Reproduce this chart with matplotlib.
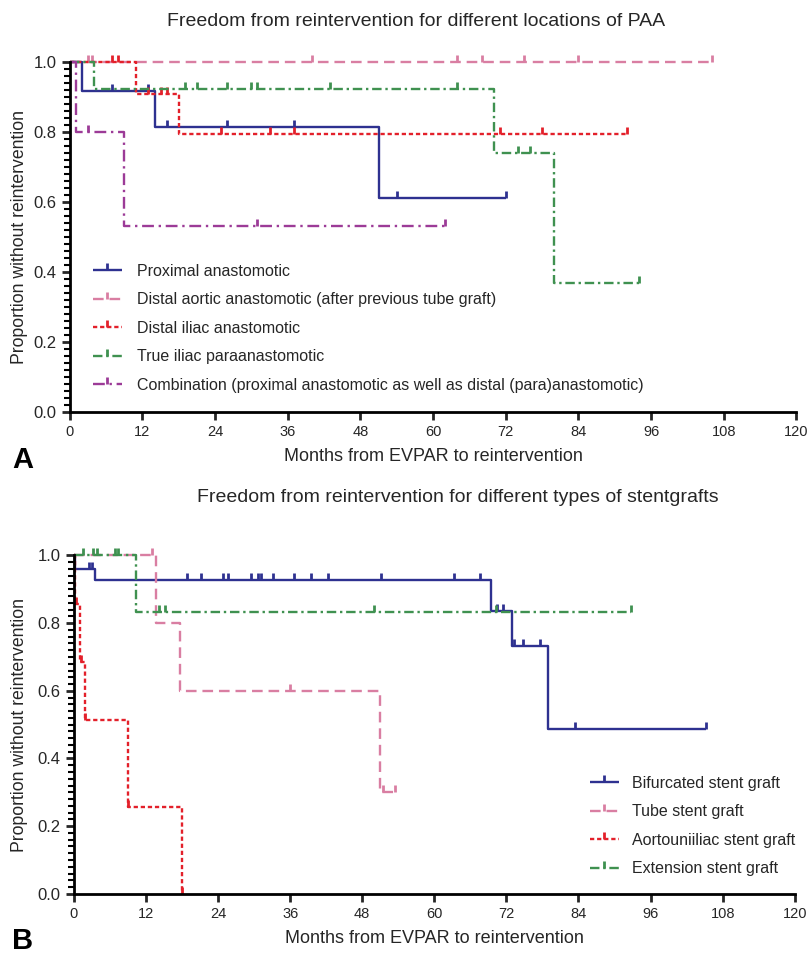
import matplotlib
matplotlib.use("Agg")
import matplotlib.pyplot as plt
import numpy as np
from matplotlib.ticker import MultipleLocator
from matplotlib.legend_handler import HandlerTuple

plt.rcParams['font.family'] = ['Liberation Sans', 'DejaVu Sans']

# ---- panel A : locations of PAA ----
prox_t = [0, 2, 14, 51, 72]
prox_s = [1.0, 0.917, 0.815, 0.611, 0.611]
prox_c = [7, 13, 16, 26, 37, 54, 72]

aortic_t = [0, 106]
aortic_s = [1.0, 1.0]
aortic_c = [3, 3.6, 40, 64, 68, 75, 84, 106]

iliac_t = [0, 11, 18, 92]
iliac_s = [1.0, 0.909, 0.795, 0.795]
iliac_c = [7, 8, 13, 15, 16, 25, 33, 37, 71, 78, 92]

para_t = [0, 4, 70, 80, 94]
para_s = [1.0, 0.923, 0.74, 0.37, 0.37]
para_c = [19, 21, 26, 30, 31, 43, 64, 74, 76, 94]

combo_t = [0, 1, 9, 62]
combo_s = [1.0, 0.8, 0.533, 0.533]
combo_c = [3, 31, 62]

labels_a = ["Proximal anastomotic",
            "Distal aortic anastomotic (after previous tube graft)",
            "Distal iliac anastomotic",
            "True iliac paraanastomotic",
            "Combination (proximal anastomotic as well as distal (para)anastomotic)"]

# ---- panel B : types of stentgrafts ----
bif_t = [0, 0.2, 3.6, 69.5, 73, 79, 105.3]
bif_s = [1.0, 0.96, 0.928, 0.835, 0.731, 0.487, 0.487]
bif_c = [2.5, 3, 18.8, 21.1, 24.9, 25.6, 29.5, 30.7, 31.2, 33.1, 36.6, 39.4,
         42.3, 51.1, 63.3, 67.6, 70.5, 71.5, 73.2, 74.8, 77.6, 83.5, 105.3]

tube_t = [0, 13.7, 17.7, 51, 53.5]
tube_s = [1.0, 0.8, 0.6, 0.3, 0.3]
tube_c = [13, 36, 51.5, 53.5]

auni_t = [0, 0.2, 1.1, 1.8, 9, 18]
auni_s = [1.0, 0.857, 0.686, 0.514, 0.257, 0.0]
auni_c = [0.4, 1.2, 1.9, 9.1, 18]

ext_t = [0, 10.3, 92.7]
ext_s = [1.0, 0.833, 0.833]
ext_c = [1.5, 3.2, 3.8, 6.8, 7.3, 14.2, 15.1, 50, 70.3, 92.7]

labels_b = ["Bifurcated stent graft", "Tube stent graft",
            "Aortouniiliac stent graft", "Extension stent graft"]

navy = '#2e3190'
pink = '#d97ea2'
red = '#e3202a'
green = '#3f9150'
purple = '#9c3b97'
txt = '#262626'

styles = {
    'solid': (0, ()),
    'pink': (0, (4.5, 2.5)),
    'red': (0, (1.8, 1.2)),
    'green': (0, (4, 1.6, 1, 1.6)),
    'purple': (0, (5, 2, 1, 2)),
}

tick_marker = [(0, 0), (0, 1)]


def km(ax, t, s, c, color, ls):
    line, = ax.step(t, s, where='post', color=color, lw=1.7,
                    linestyle=styles[ls], clip_on=False)
    idx = np.searchsorted(t, c, side='right') - 1
    lev = np.array(s)[idx]
    marks, = ax.plot(c, lev, linestyle='none', marker=tick_marker,
                     markersize=10, mew=2.0, color=color, clip_on=False)
    return (line, marks)


def style_axes(ax):
    ax.set_xlim(0, 120)
    ax.set_ylim(0, 1.0)
    ax.xaxis.set_major_locator(MultipleLocator(12))
    ax.yaxis.set_major_locator(MultipleLocator(0.2))
    ax.yaxis.set_minor_locator(MultipleLocator(0.02))
    ax.yaxis.set_major_formatter(plt.FormatStrFormatter('%.1f'))
    for sp in ['top', 'right']:
        ax.spines[sp].set_visible(False)
    for sp in ['left', 'bottom']:
        ax.spines[sp].set_linewidth(2.0)
    ax.tick_params(axis='both', which='major', length=6, width=2.0, colors=txt)
    ax.tick_params(axis='x', labelsize=10.5)
    ax.tick_params(axis='y', labelsize=12)
    ax.tick_params(axis='y', which='minor', length=4, width=1.5)
    ax.set_ylabel("Proportion without reintervention", fontsize=12.7, color=txt)
    ax.set_xlabel("Months from EVPAR to reintervention", fontsize=13, color=txt)


fig = plt.figure(figsize=(8.11, 9.56), dpi=100)

axA = fig.add_axes([0.086, 0.569, 0.896, 0.366])
style_axes(axA)
hA = [km(axA, prox_t, prox_s, prox_c, navy, 'solid'),
      km(axA, aortic_t, aortic_s, aortic_c, pink, 'pink'),
      km(axA, iliac_t, iliac_s, iliac_c, red, 'red'),
      km(axA, para_t, para_s, para_c, green, 'green'),
      km(axA, combo_t, combo_s, combo_c, purple, 'purple')]
axA.legend(hA, labels_a, handler_map={tuple: HandlerTuple(ndivide=1)},
           loc='lower left', bbox_to_anchor=(0.023, 0.037), borderaxespad=0,
           frameon=False, fontsize=11.5, labelspacing=0.84, handlelength=1.8,
           handletextpad=0.95, labelcolor=txt)
axA.xaxis.set_label_coords(0.5, -0.103)
axA.yaxis.set_label_coords(-0.058, 0.5)

axB = fig.add_axes([0.091, 0.065, 0.889, 0.354])
style_axes(axB)
hB = [km(axB, bif_t, bif_s, bif_c, navy, 'solid'),
      km(axB, tube_t, tube_s, tube_c, pink, 'pink'),
      km(axB, auni_t, auni_s, auni_c, red, 'red'),
      km(axB, ext_t, ext_s, ext_c, green, 'green')]
axB.legend(hB, labels_b, handler_map={tuple: HandlerTuple(ndivide=1)},
           loc='lower right', bbox_to_anchor=(1.009, 0.033), borderaxespad=0,
           frameon=False, fontsize=11.5, labelspacing=0.84, handlelength=1.8,
           handletextpad=0.8, labelcolor=txt)
axB.xaxis.set_label_coords(0.5, -0.107)
axB.yaxis.set_label_coords(-0.064, 0.5)

fig.text(0.206, 0.978, "Freedom from reintervention for different locations of PAA",
         ha='left', va='center', fontsize=14, color=txt)
fig.text(0.243, 0.480, "Freedom from reintervention for different types of stentgrafts",
         ha='left', va='center', fontsize=14, color=txt)
fig.text(0.015, 0.519, "A", fontsize=21, fontweight='bold', va='center')
fig.text(0.015, 0.016, "B", fontsize=21, fontweight='bold', va='center')

fig.savefig("out.png", dpi=100)
